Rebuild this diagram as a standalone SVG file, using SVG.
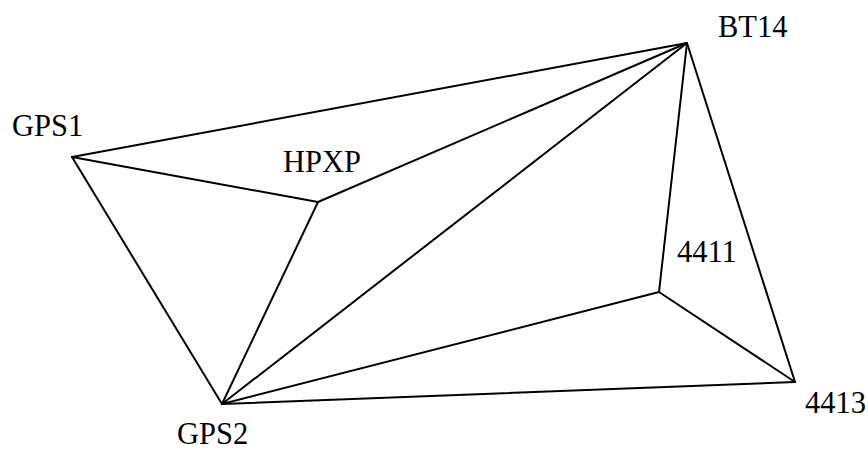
<svg xmlns="http://www.w3.org/2000/svg" width="868" height="451" viewBox="0 0 868 451">
  <style>
    .edge { stroke: #000; stroke-width: 2; fill: none; stroke-linecap: round; }
    .label { font-family: "Liberation Serif", "Times New Roman", serif; font-size: 30.5px; fill: #000; }
  </style>
  <rect width="868" height="451" fill="#fff"/>
  <g id="connectors">
    <line class="edge" x1="72" y1="157" x2="687" y2="43"/>
    <line class="edge" x1="72" y1="157" x2="318" y2="202"/>
    <line class="edge" x1="72" y1="157" x2="222" y2="404"/>
    <line class="edge" x1="318" y1="202" x2="687" y2="43"/>
    <line class="edge" x1="318" y1="202" x2="222" y2="404"/>
    <line class="edge" x1="222" y1="404" x2="687" y2="43"/>
    <line class="edge" x1="222" y1="404" x2="659" y2="292"/>
    <line class="edge" x1="222" y1="404" x2="795" y2="382"/>
    <line class="edge" x1="659" y1="292" x2="687" y2="43"/>
    <line class="edge" x1="659" y1="292" x2="795" y2="382"/>
    <line class="edge" x1="687" y1="43" x2="795" y2="382"/>
  </g>
  <g id="GPS1"><text class="label" x="12" y="136">GPS1</text></g>
  <g id="HPXP"><text class="label" x="283" y="172">HPXP</text></g>
  <g id="BT14"><text class="label" x="718" y="37">BT14</text></g>
  <g id="n4411"><text class="label" x="677" y="262">4411</text></g>
  <g id="n4413"><text class="label" x="805" y="413">4413</text></g>
  <g id="GPS2"><text class="label" x="177" y="444">GPS2</text></g>
</svg>
